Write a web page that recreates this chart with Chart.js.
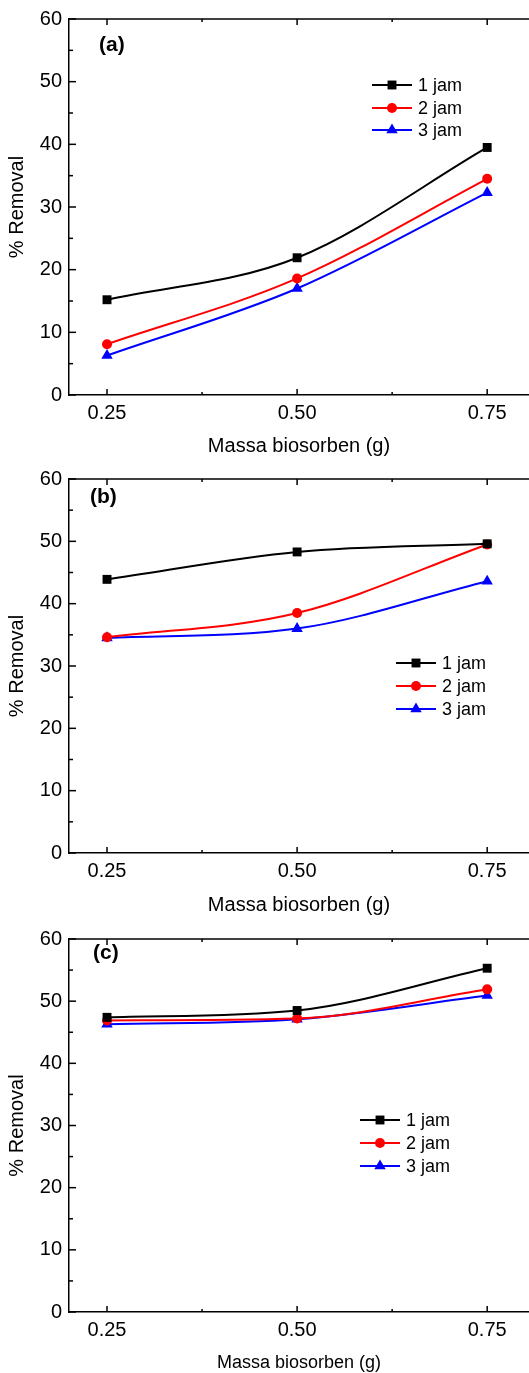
<!DOCTYPE html>
<html>
<head>
<meta charset="utf-8">
<script src="https://cdn.jsdelivr.net/npm/chart.js@4/dist/chart.umd.min.js"></script>
<style>
  body { margin: 0; background: #fff; }
  canvas { display: block; }
</style>
</head>
<body>
<canvas id="chartA" width="529" height="460"></canvas>
<canvas id="chartB" width="529" height="460"></canvas>
<canvas id="chartC" width="529" height="453"></canvas>
<script>
// --- DATA ---
const massaBiosorben = [0.25, 0.50, 0.75];
const seriesLabels = ['1 jam', '2 jam', '3 jam'];

// panel (a)
const removalA1 = [15.2, 21.9, 39.5];
const removalA2 = [8.1, 18.6, 34.5];
const removalA3 = [6.3, 17.0, 32.3];
// panel (b)
const removalB1 = [43.9, 48.3, 49.6];
const removalB2 = [34.6, 38.5, 49.5];
const removalB3 = [34.5, 36.0, 43.6];
// panel (c)
const removalC1 = [47.4, 48.5, 55.3];
const removalC2 = [46.9, 47.2, 51.9];
const removalC3 = [46.3, 47.1, 50.9];

// ticks
const xTicks = [0.25, 0.50, 0.75];
const xMinorTicks = [0.375, 0.625];
const yTicks = [0, 10, 20, 30, 40, 50, 60];
const yMinorTicks = [5, 15, 25, 35, 45, 55];

const seriesColors = ['#000000', '#ff0000', '#0000ff'];
const seriesPoints = ['rect', 'circle', 'triangle'];
const pointSizes = [6.3, 5, 6.6];

Chart.defaults.font.family = "'Liberation Sans', Arial, sans-serif";
Chart.defaults.color = '#000';

// desenha um marcador igual ao do chart.js
function drawMarker(ctx, style, x, y, r, color) {
    ctx.fillStyle = color;
    ctx.beginPath();
    if (style === 'rect') {
        const s = r * Math.SQRT1_2;
        ctx.rect(x - s, y - s, 2 * s, 2 * s);
    } else if (style === 'circle') {
        ctx.arc(x, y, r, 0, Math.PI * 2);
    } else {
        ctx.moveTo(x, y - r);
        ctx.lineTo(x + r * 0.866, y + r * 0.5);
        ctx.lineTo(x - r * 0.866, y + r * 0.5);
        ctx.closePath();
    }
    ctx.fill();
}

// moldura, ticks para dentro, legenda e rótulo do painel
const framePlugin = {
    id: 'frame',
    afterDraw(chart, args, opts) {
        const { ctx, chartArea: ca } = chart;
        const x = chart.scales.x, y = chart.scales.y;
        ctx.save();
        ctx.strokeStyle = '#000';
        ctx.lineWidth = 1.5;
        const seg = (x1, y1, x2, y2) => {
            ctx.beginPath(); ctx.moveTo(x1, y1); ctx.lineTo(x2, y2); ctx.stroke();
        };
        seg(ca.left, ca.top, ca.right, ca.top);

        yTicks.forEach(v => { const p = y.getPixelForValue(v); seg(ca.left, p, ca.left + 7, p); });
        yMinorTicks.forEach(v => { const p = y.getPixelForValue(v); seg(ca.left, p, ca.left + 4, p); });
        xTicks.forEach(v => {
            const p = x.getPixelForValue(v);
            seg(p, ca.bottom, p, ca.bottom - 6);
            seg(p, ca.top, p, ca.top + 6);
        });
        xMinorTicks.forEach(v => {
            const p = x.getPixelForValue(v);
            seg(p, ca.bottom, p, ca.bottom - 3);
            seg(p, ca.top, p, ca.top + 3);
        });

        // legenda
        const lg = opts.legend;
        ctx.font = "18px 'Liberation Sans', Arial, sans-serif";
        ctx.textBaseline = 'middle';
        ctx.textAlign = 'left';
        ctx.lineWidth = 2;
        chart.data.datasets.forEach((ds, i) => {
            const ry = lg.rows[i];
            ctx.strokeStyle = ds.borderColor;
            seg(lg.x, ry, lg.x + 40, ry);
            drawMarker(ctx, ds.pointStyle, lg.x + 20, ry, ds.pointRadius, ds.borderColor);
            ctx.fillStyle = '#000';
            ctx.fillText(ds.label, lg.x + 46, ry + 1);
        });

        // rótulo do painel
        ctx.font = "bold 21px 'Liberation Sans', Arial, sans-serif";
        ctx.fillStyle = '#000';
        ctx.fillText(opts.label.text, opts.label.x, opts.label.y);
        ctx.restore();
    }
};

function buildChart(id, values, cfg) {
    const datasets = values.map((arr, i) => ({
        label: seriesLabels[i],
        data: massaBiosorben.map((m, j) => ({ x: m, y: arr[j] })),
        borderColor: seriesColors[i],
        backgroundColor: seriesColors[i],
        borderWidth: 2,
        pointStyle: seriesPoints[i],
        pointRadius: pointSizes[i],
        pointBorderWidth: 0,
        cubicInterpolationMode: 'monotone'
    }));

    return new Chart(document.getElementById(id), {
        type: 'line',
        data: { datasets },
        options: {
            responsive: false,
            animation: false,
            layout: {
                autoPadding: false,
                padding: { top: cfg.padTop, left: 0, right: 0, bottom: 0 }
            },
            plugins: {
                legend: { display: false },
                tooltip: { enabled: false },
                frame: { legend: cfg.legend, label: cfg.label }
            },
            scales: {
                x: {
                    type: 'linear',
                    min: 0.20,
                    max: 0.805,
                    afterBuildTicks: s => { s.ticks = xTicks.map(v => ({ value: v })); },
                    afterFit: s => {
                        s.height = cfg.xHeight;
                        s.paddingLeft = 0;
                        s.paddingRight = 0;
                    },
                    grid: { display: false, drawTicks: false },
                    border: { display: true, color: '#000', width: 1.5 },
                    ticks: {
                        padding: 6,
                        font: { size: 20 },
                        callback: v => Number(v).toFixed(2)
                    },
                    title: {
                        display: true,
                        text: 'Massa biosorben (g)',
                        font: { size: cfg.titleSize, lineHeight: 1 },
                        padding: { top: 0, bottom: cfg.titlePad }
                    }
                },
                y: {
                    min: 0,
                    max: 60,
                    afterBuildTicks: s => { s.ticks = yTicks.map(v => ({ value: v })); },
                    afterFit: s => { s.width = 69; },
                    grid: { display: false, drawTicks: false },
                    border: { display: true, color: '#000', width: 1.5 },
                    ticks: { padding: 7, font: { size: 20 } },
                    title: {
                        display: true,
                        text: '% Removal',
                        font: { size: 20, lineHeight: 1 },
                        padding: { top: 7, bottom: 0 }
                    }
                }
            }
        },
        plugins: [framePlugin]
    });
}

buildChart('chartA', [removalA1, removalA2, removalA3], {
    padTop: 16, xHeight: 65, titleSize: 20, titlePad: 4,
    legend: { x: 372, rows: [85, 108, 130] },
    label: { text: '(a)', x: 99, y: 45 }
});
buildChart('chartB', [removalB1, removalB2, removalB3], {
    padTop: 12, xHeight: 67, titleSize: 20, titlePad: 5,
    legend: { x: 396, rows: [203, 226, 249] },
    label: { text: '(b)', x: 90, y: 37 }
});
buildChart('chartC', [removalC1, removalC2, removalC3], {
    padTop: 10, xHeight: 61, titleSize: 18, titlePad: 1,
    legend: { x: 360, rows: [200, 223, 246] },
    label: { text: '(c)', x: 93, y: 33 }
});
</script>
</body>
</html>
